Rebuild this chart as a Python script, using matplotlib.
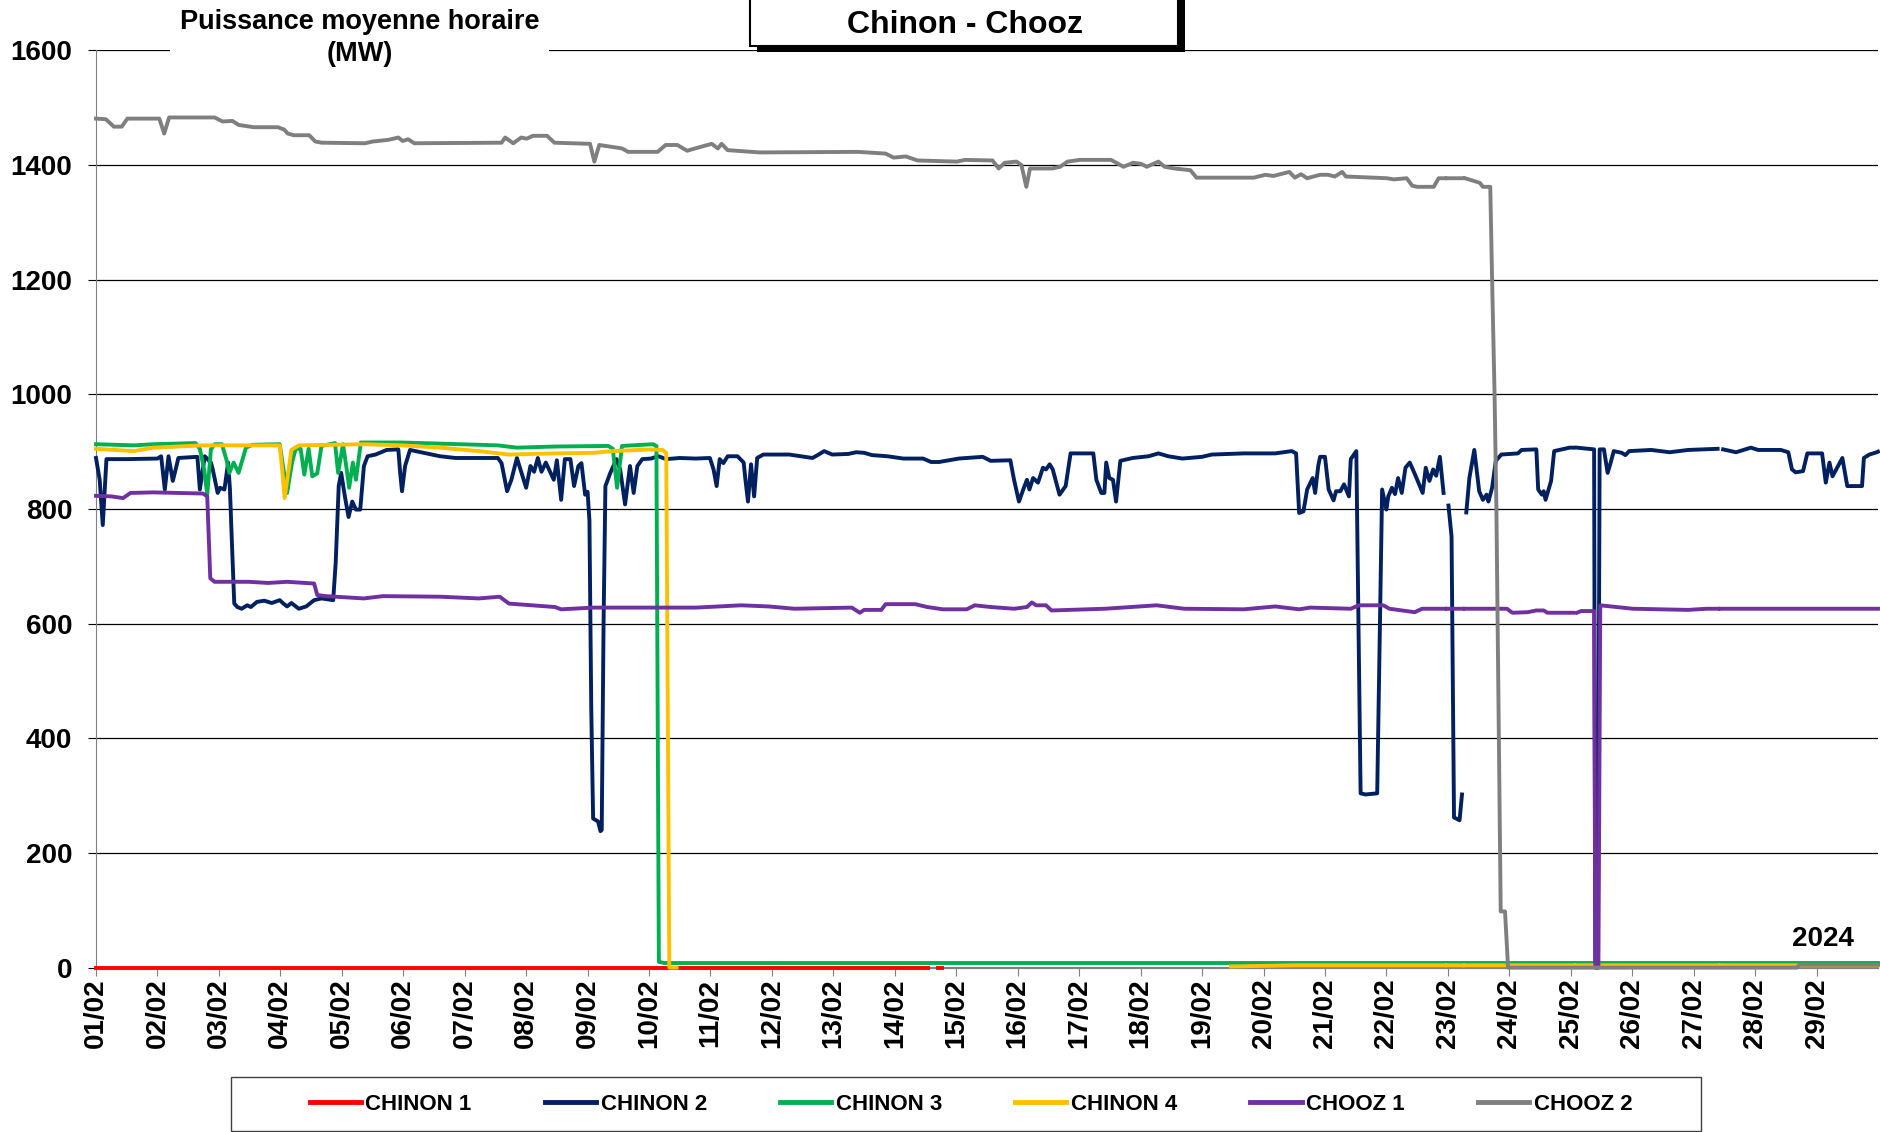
import matplotlib
matplotlib.use("Agg")
import matplotlib.pyplot as plt
import numpy as np
from matplotlib.patches import Rectangle

nan = np.nan

# -------------------------
# DATA (time in days since 01/02 00:00, power in MW)
# -------------------------
day_labels = [f"{d:02d}/02" for d in range(1, 30)]
y_ticks = [0, 200, 400, 600, 800, 1000, 1200, 1400, 1600]

chinon1_t = [0, 13.54, 13.6, 13.71, 13.77]
chinon1_mw = [0, 0, nan, 0, 0]

chinon2_t = [0, 0.06, 0.11, 0.17, 0.5, 1.0, 1.06, 1.12, 1.18, 1.25, 1.31, 1.34, 1.65, 1.69, 1.77,
             1.87, 1.90, 1.98, 2.02, 2.09, 2.15, 2.18, 2.21, 2.25, 2.30, 2.37, 2.46, 2.52, 2.62,
             2.74, 2.86, 2.99, 3.05, 3.11, 3.18, 3.30, 3.42, 3.55, 3.67, 3.86, 3.90, 3.95, 3.99,
             4.05, 4.11, 4.17, 4.23, 4.30, 4.36, 4.42, 4.55, 4.73, 4.92, 4.95, 4.98, 5.03, 5.11,
             5.60, 5.85, 6.54, 6.60, 6.69, 6.76, 6.85, 7.00, 7.07, 7.13, 7.19, 7.25, 7.32, 7.45,
             7.50, 7.57, 7.63, 7.72, 7.78, 7.85, 7.90, 7.96, 8.00, 8.03, 8.06, 8.09, 8.17, 8.21,
             8.23, 8.26, 8.29, 8.37, 8.47, 8.53, 8.61, 8.69, 8.75, 8.81, 8.89, 9.03, 9.15, 9.28,
             9.50, 9.76, 9.99, 10.05, 10.10, 10.15, 10.21, 10.28, 10.44, 10.54, 10.57, 10.61,
             10.66, 10.71, 10.76, 10.86, 11.28, 11.66, 11.76, 11.85, 11.98, 12.24, 12.37, 12.50,
             12.63, 12.88, 13.14, 13.46, 13.59, 13.72, 14.04, 14.43, 14.56, 14.88, 14.94, 15.02,
             15.10, 15.15, 15.19, 15.25, 15.33, 15.41, 15.46, 15.52, 15.57, 15.68, 15.78, 15.86,
             16.23, 16.28, 16.36, 16.41, 16.44, 16.49, 16.55, 16.60, 16.67, 16.87, 17.13, 17.29,
             17.45, 17.68, 18.00, 18.16, 18.68, 19.19, 19.46, 19.53, 19.58, 19.65, 19.71, 19.80,
             19.84, 19.89, 19.92, 20.00, 20.06, 20.14, 20.18, 20.25, 20.31, 20.39, 20.42, 20.51,
             20.58, 20.66, 20.85, 20.93, 21.00, 21.03, 21.09, 21.14, 21.19, 21.25, 21.31, 21.38,
             21.43, 21.49, 21.59, 21.64, 21.70, 21.76, 21.81, 21.87, 21.93, 21.97, 22.01, 22.06,
             22.10, 22.19, 22.23, 22.26, 22.30, 22.35, 22.43, 22.51, 22.57, 22.63, 22.66, 22.72,
             22.78, 22.87, 23.14, 23.20, 23.41, 23.44, 23.47, 23.53, 23.56, 23.59, 23.68, 23.73,
             23.98, 24.04, 24.07, 24.10, 24.38, 24.40, 24.44, 24.47, 24.54, 24.60, 24.65, 24.70,
             24.83, 24.89, 24.95, 25.31, 25.61, 25.91, 26.39, 26.42, 26.48, 26.69, 26.93, 27.05,
             27.42, 27.54, 27.60, 27.66, 27.78, 27.85, 28.09, 28.15, 28.21, 28.26, 28.35, 28.42,
             28.50, 28.74, 28.77, 28.86, 28.98, 29.0]
chinon2_mw = [889, 851, 772, 887, 887, 888, 892, 834, 892, 849, 875, 889, 891, 834, 892,
              881, 869, 828, 837, 834, 881, 834, 746, 635, 629, 626, 632, 629, 638,
              640, 636, 641, 635, 630, 636, 626, 630, 641, 644, 641, 705, 840, 863,
              822, 786, 813, 799, 799, 875, 892, 895, 903, 904, 863, 831, 875, 903,
              892, 889, 889, 880, 831, 851, 889, 837, 875, 865, 889, 865, 881, 851,
              885, 816, 887, 887, 840, 875, 880, 825, 830, 780, 450, 260, 255, 238,
              240, 600, 840, 863, 887, 869, 808, 875, 828, 875, 887, 888, 892, 887,
              889, 888, 889, 869, 840, 887, 880, 892, 892, 881, 850, 813,
              878, 822, 889, 895, 895, 889, 895, 901, 895, 896, 899, 898,
              894, 892, 888, 888, 882, 882, 888, 891, 884, 885, 851, 813,
              837, 851, 834, 854, 846, 872, 869, 878, 869, 825, 840, 897,
              897, 851, 828, 828, 881, 854, 851, 813, 884, 889, 892, 897,
              892, 888, 891, 895, 897, 897, 901, 897, 793, 796, 834, 854,
              828, 875, 891, 891, 834, 815, 831, 831, 843, 822, 887, 901,
              304, 302, 304, 834, 799, 822, 837, 826, 854, 828, 872, 881,
              869, 854, 828, 872, 849, 869, 858, 891, 828, nan, 806, 752,
              262, 257, 302, nan, 794, 854, 903, 831, 816, 825, 813, 837,
              884, 895, 897, 903, 904, 904, 834, 825, 831, 816, 849, 901,
              907, 907, nan, 907, 904, 0, 0, 904, 904, 863, 881, 901,
              898, 894, 901, 903, 899, 903, 905, nan, 904, 899, 907, 903,
              903, 899, 869, 864, 866, 897, 897, 846, 881, 857, 875, 889,
              840, 840, 889, 895, 899, 900]

chinon3_t = [0, 0.62, 0.93, 1.62, 1.69, 1.76, 1.81, 1.87, 1.93, 2.05, 2.12, 2.17, 2.24, 2.32,
             2.44, 2.55, 2.99, 3.05, 3.11, 3.19, 3.25, 3.33, 3.39, 3.46, 3.52, 3.60, 3.67, 3.89,
             3.94, 4.02, 4.08, 4.12, 4.18, 4.23, 4.31, 4.98, 5.92, 6.54, 6.85, 7.47, 8.34, 8.41,
             8.48, 8.56, 9.06, 9.12, 9.16, 9.25, 21.95, 21.97, 21.99, 22.24, 22.26, 22.28, 24.05,
             24.07, 24.09, 26.40, 26.42, 26.44, 29.0]
chinon3_mw = [913, 911, 913, 915, 905, 869, 825, 904, 913, 913, 887, 863, 881, 863,
              907, 912, 913, 870, 828, 881, 905, 905, 860, 905, 857, 862, 910, 915,
              863, 913, 869, 837, 881, 851, 916, 916, 913, 911, 907, 909, 910, 905,
              837, 910, 913, 910, 10, 8, 8, nan, 8, 8, nan, 8, 8,
              nan, 8, 8, nan, 8, 8]

chinon4_t = [0, 0.31, 0.62, 0.93, 1.74, 2.49, 2.99, 3.03, 3.07, 3.11, 3.18, 3.30, 4.36, 4.98,
             5.60, 6.23, 6.72, 7.47, 8.09, 8.41, 9.03, 9.22, 9.28, 9.33, 9.45, 9.5, 18.47, 19.50,
             21.95, 21.97, 21.99, 22.24, 22.26, 22.28, 24.05, 24.07, 24.09, 26.40, 26.42, 26.44,
             29.0]
chinon4_mw = [905, 903, 901, 907, 911, 911, 911, 869, 819, 850, 903, 911, 913, 911,
              907, 901, 895, 897, 898, 901, 904, 903, 898, 0, 0, nan, 2, 4,
              4, nan, 4, 4, nan, 4, 4, nan, 4, 4, nan, 4,
              4]

chooz1_t = [0, 0.25, 0.44, 0.56, 0.93, 1.74, 1.81, 1.86, 1.93, 2.49, 2.80, 3.11, 3.55, 3.60,
            3.74, 4.36, 4.67, 5.60, 6.23, 6.57, 6.72, 7.47, 7.57, 8.09, 9.76, 10.50, 10.95, 11.37,
            12.30, 12.43, 12.50, 12.78, 12.85, 13.33, 13.53, 13.78, 14.17, 14.30, 14.56, 14.94,
            15.15, 15.23, 15.30, 15.46, 15.55, 16.42, 17.26, 17.71, 18.68, 19.19, 19.58, 19.76,
            20.42, 20.55, 20.95, 21.05, 21.46, 21.58, 21.95, 21.97, 21.99, 22.24, 22.26, 22.28,
            22.96, 23.05, 23.30, 23.44, 23.56, 23.62, 24.04, 24.07, 24.10, 24.17, 24.38, 24.40,
            24.45, 24.48, 25.01, 25.91, 26.21, 26.40, 26.42, 26.44, 29.0]
chooz1_mw = [823, 822, 819, 828, 829, 827, 822, 679, 673, 673, 671, 673, 670, 650,
             648, 644, 648, 647, 644, 647, 635, 629, 625, 628, 628, 632, 630, 626,
             628, 619, 624, 624, 634, 634, 629, 625, 625, 632, 629, 626,
             629, 637, 632, 632, 623, 626, 632, 626, 625, 630, 625, 628,
             626, 632, 632, 626, 620, 626, 626, nan, 626, 626, nan, 626,
             626, 619, 620, 623, 623, 619, 619, nan, 619, 622, 622, 0,
             0, 632, 626, 624, 626, 626, nan, 626, 626]

chooz2_t = [0, 0.16, 0.29, 0.42, 0.51, 1.03, 1.11, 1.19, 1.93, 2.06, 2.22, 2.32, 2.57, 2.96,
            3.06, 3.12, 3.22, 3.47, 3.57, 3.67, 4.38, 4.50, 4.76, 4.92, 4.99, 5.08, 5.18, 6.60,
            6.66, 6.79, 6.92, 7.01, 7.11, 7.34, 7.46, 8.04, 8.11, 8.19, 8.56, 8.66, 9.14, 9.27,
            9.46, 9.62, 9.85, 10.02, 10.12, 10.18, 10.28, 10.80, 12.40, 12.85, 12.98, 13.18,
            13.37, 14.01, 14.14, 14.59, 14.69, 14.79, 14.98, 15.06, 15.14, 15.20, 15.56, 15.69,
            15.81, 16.01, 16.52, 16.72, 16.88, 17.01, 17.10, 17.29, 17.39, 17.55, 17.81, 17.91,
            18.84, 19.03, 19.16, 19.42, 19.51, 19.61, 19.71, 19.92, 20.05, 20.16, 20.28, 20.34,
            21.01, 21.12, 21.33, 21.42, 21.50, 21.77, 21.85, 21.95, 21.97, 21.99, 22.24, 22.26,
            22.28, 22.52, 22.57, 22.69, 22.72, 22.76, 22.79, 22.83, 22.86, 22.93, 22.98, 27.68,
            27.72, 29.0]
chooz2_mw = [1481, 1480, 1467, 1467, 1481, 1481, 1455, 1483, 1483, 1476, 1477, 1470, 1466, 1466,
             1462, 1455, 1452, 1452, 1441, 1439, 1438, 1441, 1444, 1448, 1442, 1445, 1438, 1439,
             1448, 1438, 1448, 1446, 1451, 1451, 1439, 1437, 1406, 1435, 1429, 1423, 1423, 1435,
             1435, 1425, 1432, 1437, 1429, 1437, 1426, 1422, 1423, 1420, 1413, 1415,
             1408, 1406, 1409, 1408, 1394, 1404, 1406, 1400, 1362, 1394, 1394, 1397,
             1406, 1409, 1409, 1397, 1404, 1402, 1397, 1406, 1397, 1394, 1391, 1378,
             1378, 1383, 1381, 1388, 1378, 1384, 1377, 1383, 1383, 1380, 1388, 1380,
             1377, 1375, 1377, 1364, 1362, 1362, 1377, 1377, nan, 1377, 1377, nan,
             1377, 1369, 1362, 1362, 1200, 1000, 800, 400, 98, 98, 0, 0,
             5, 5]

series = [
    ("CHINON 1", chinon1_t, chinon1_mw, "#FF0000"),
    ("CHINON 2", chinon2_t, chinon2_mw, "#002060"),
    ("CHINON 3", chinon3_t, chinon3_mw, "#00B050"),
    ("CHINON 4", chinon4_t, chinon4_mw, "#FFC000"),
    ("CHOOZ 1", chooz1_t, chooz1_mw, "#7030A0"),
    ("CHOOZ 2", chooz2_t, chooz2_mw, "#7F7F7F"),
]

# -------------------------
# FIGURE
# -------------------------
plt.rcParams["font.family"] = ["Liberation Sans", "DejaVu Sans"]
plt.rcParams["font.weight"] = "bold"

W, H = 1880, 1132
fig = plt.figure(figsize=(W / 100, H / 100), dpi=100)
ax = fig.add_axes([96 / W, 1 - 967.6 / H, 1782 / W, 917.2 / H])

for name, t, mw, color in series:
    ax.plot(t, mw, color=color, lw=2.8, label=name, solid_joinstyle="round",
            clip_on=False, zorder=3)

ax.set_xlim(0, 29)
ax.set_ylim(0, 1600)
ax.set_xticks(range(29))
ax.set_xticklabels(day_labels, rotation=90, fontsize=20, fontweight="bold")
ax.set_yticks(y_ticks)
ax.set_yticklabels([str(v) for v in y_ticks], fontsize=20, fontweight="bold")
ax.tick_params(axis="x", length=6, pad=2, color="#808080")
ax.tick_params(axis="y", length=6, pad=11, color="#000000")
ax.yaxis.grid(True, color="#000000", lw=0.9)
ax.set_axisbelow(True)
for side in ("top", "right"):
    ax.spines[side].set_visible(False)
ax.spines["left"].set_color("#808080")
ax.spines["bottom"].set_color("#808080")
ax.spines["bottom"].set_linewidth(1.6)

ax.text(0.9865, 0.031, "2024", transform=ax.transAxes, ha="right", va="center",
        fontsize=20, fontweight="bold")

# y label with white background over the top gridline
fig.add_artist(Rectangle((170 / W, 1 - 70 / H), 379 / W, 70 / H, transform=fig.transFigure,
                         facecolor="white", edgecolor="none", zorder=2))
fig.text(360 / W, 1 - 38 / H, "Puissance moyenne horaire\n(MW)", ha="center", va="center",
         fontsize=19.5, fontweight="bold", linespacing=1.3, zorder=3)

# title box with shadow
fig.add_artist(Rectangle((757 / W, 1 - 52 / H), 428 / W, 70 / H, transform=fig.transFigure,
                         facecolor="black", edgecolor="none", zorder=2))
fig.add_artist(Rectangle((750 / W, 1 - 46 / H), 428 / W, 70 / H, transform=fig.transFigure,
                         facecolor="white", edgecolor="black", lw=1.5, zorder=2))
fig.text(965 / W, 1 - 25 / H, "Chinon - Chooz", ha="center", va="center",
         fontsize=23, fontweight="bold", zorder=3)

# legend
fig.add_artist(Rectangle((231 / W, 1 - 1131 / H), 1470 / W, 54 / H, transform=fig.transFigure,
                         facecolor="white", edgecolor="#404040", lw=1.0, zorder=1))
leg = fig.legend(loc="center", bbox_to_anchor=(971 / W, 1 - 1104 / H), ncol=6, frameon=False,
                 handlelength=2.3, handletextpad=0.2, columnspacing=3.3,
                 prop={"weight": "bold", "size": 16})
for line in leg.get_lines():
    line.set_linewidth(3.5)

fig.savefig("out.png", dpi=100)
